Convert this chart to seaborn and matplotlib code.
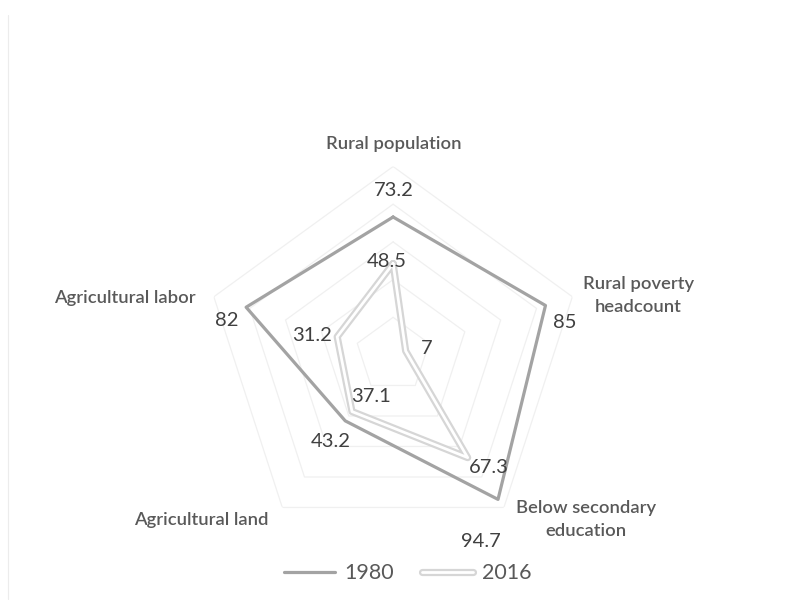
import numpy as np
import pandas as pd
import matplotlib
matplotlib.use("Agg")
import matplotlib.pyplot as plt
import matplotlib.patheffects as pe
from matplotlib.lines import Line2D
import seaborn as sns

categories = ["Rural population", "Rural poverty\nheadcount", "Below secondary\neducation",
              "Agricultural land", "Agricultural labor"]
values_1980 = [73.2, 85, 94.7, 43.2, 82]
values_2016 = [48.5, 7, 67.3, 37.1, 31.2]
series_names = ["1980", "2016"]
grid_levels = [20, 40, 60, 80, 100]

sns.set_theme(style="white")
plt.rcParams["font.family"] = ["Lato", "DejaVu Sans"]

n = len(categories)
angles = np.linspace(0, 2 * np.pi, n, endpoint=False)
closed_angles = np.append(angles, angles[0])

fig = plt.figure(figsize=(7.87, 6.11), dpi=100)
ax = fig.add_axes([0.260, 0.1105, 0.479, 0.617], projection="polar")
ax.set_theta_offset(np.pi / 2)
ax.set_theta_direction(-1)
ax.set_ylim(0, 100)
ax.grid(False)
ax.set_xticks([])
ax.set_yticks([])
ax.spines["polar"].set_visible(False)
ax.set_facecolor("none")

# faint pentagon gridlines
for lvl in grid_levels:
    ax.plot(closed_angles, [lvl] * (n + 1), color="#f0f0f0", lw=0.9, zorder=1)

def closed_frame(vals, name):
    return pd.DataFrame({"theta": closed_angles,
                         "r": list(vals) + [vals[0]],
                         "series": name})

df80 = closed_frame(values_1980, "1980")
df16 = closed_frame(values_2016, "2016")

c1980 = "#a3a3a3"
edge2016 = "#d6d6d6"
fx2016 = [pe.Stroke(linewidth=5.2, foreground=edge2016), pe.Normal()]

sns.lineplot(data=df80, x="theta", y="r", sort=False, estimator=None, ax=ax,
             color=c1980, lw=2.3, legend=False, zorder=3)
l16 = sns.lineplot(data=df16, x="theta", y="r", sort=False, estimator=None, ax=ax,
                   color="white", lw=2.0, legend=False, zorder=4).lines[-1]
l16.set_path_effects(fx2016)
ax.set_xlabel("")
ax.set_ylabel("")

# data labels
lab_color = "#404040"
off_1980 = [(1, 27), (19, -17), (-17, -42), (-14, -21), (-19, -13)]
off_2016 = [(-6, 2), (21, 2), (21, -10), (19, 15), (-25, 1)]
for vals, offs in ((values_1980, off_1980), (values_2016, off_2016)):
    for a, v, o in zip(angles, vals, offs):
        ax.annotate(f"{v:g}", xy=(a, v), xytext=o, textcoords="offset pixels",
                    ha="center", va="center", fontsize=14.5, color=lab_color,
                    zorder=6)

# category labels at the outer ends of the axes
cat_offsets = [(1, 23), (66, 1), (82, -12), (-81, -13), (-89, -1)]
for a, name, o in zip(angles, categories, cat_offsets):
    ax.annotate(name, xy=(a, 100), xytext=o, textcoords="offset pixels",
                ha="center", va="center", fontsize=13.2, color="#595959",
                fontweight="semibold", linespacing=1.5, annotation_clip=False)

handles = [Line2D([], [], color=c1980, lw=2.3),
           Line2D([], [], color="white", lw=2.0, path_effects=fx2016)]
fig.legend(handles, series_names, loc="center", bbox_to_anchor=(0.518, 0.062),
           ncol=2, frameon=False, fontsize=15.5, labelcolor="#595959",
           handlelength=2.4, handletextpad=0.4, columnspacing=1.3)

# light chart-area frame edge
fig.add_artist(Line2D([0.010, 0.010], [0.02, 0.975], transform=fig.transFigure,
                      color="#ececec", lw=0.8))

fig.savefig("out.png", dpi=100, facecolor="white")
